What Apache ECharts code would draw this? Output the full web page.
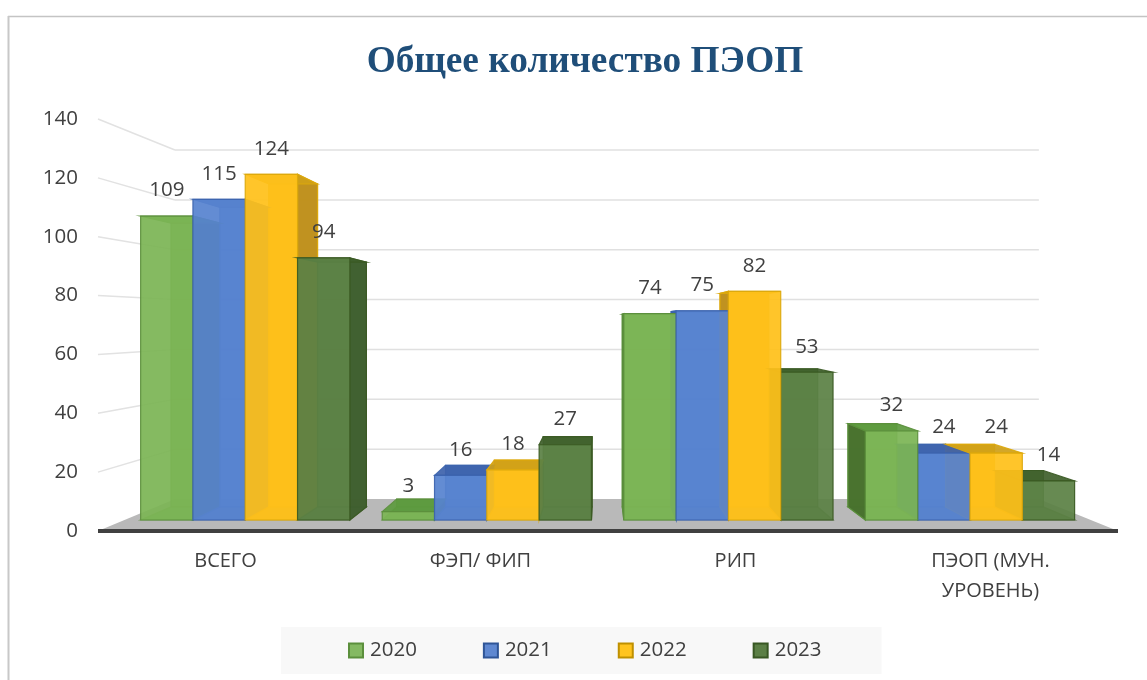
<!DOCTYPE html>
<html>
<head>
<meta charset="utf-8">
<title>Общее количество ПЭОП</title>
<script src="https://cdn.jsdelivr.net/npm/echarts@6/dist/echarts.min.js"></script>
<style>
  html, body { margin: 0; padding: 0; background: #fff; }
  #chart { width: 1147px; height: 680px; }
</style>
</head>
<body>
<div id="chart"></div>
<script>
/* 데이터 */
const categories = ['ВСЕГО', 'ФЭП/ ФИП', 'РИП', 'ПЭОП (МУН.\nУРОВЕНЬ)'];
const years      = ['2020', '2021', '2022', '2023'];
const values2020 = [109, 3, 74, 32];
const values2021 = [115, 16, 75, 24];
const values2022 = [124, 18, 82, 24];
const values2023 = [94, 27, 53, 14];
const yTicks     = [0, 20, 40, 60, 80, 100, 120, 140];

/* 카테고리별 막대 겹침 순서 (뒤 -> 앞) */
const paintOrder = [[0, 1, 2, 3], [0, 1, 2, 3], [0, 1, 3, 2], [1, 3, 0, 2]];

/* 연도별 색상 */
const palette = [
  { front: '#7cb555', back: '#6aa544', top: '#5c9a3e', side: '#47702c', edge: '#5b8f3c', icon: '#84b962', iconEdge: '#5b8f3c' },
  { front: '#5783d0', back: '#4472c4', top: '#3d62ab', side: '#3a62ad', edge: '#3c64ae', icon: '#5f88d1', iconEdge: '#2f5597' },
  { front: '#ffc11a', back: '#f0b000', top: '#cf9f17', side: '#bd8f20', edge: '#dca80c', icon: '#ffc41f', iconEdge: '#bf9000' },
  { front: '#5b8145', back: '#4f7335', top: '#3f5f2b', side: '#3f5f2f', edge: '#3b5a24', icon: '#5b7f45', iconEdge: '#385723' },
];

const FONT = '"Open Sans", "Noto Sans", sans-serif';
const TEXT = '#404040';

/* 원근 파라미터: 소실점(플롯 영역 비율)과 깊이 */
const VP_X = 0.493, VP_Y = 0.4927;
const D_BAR_FRONT = 0.0526, D_BAR_BACK = 0.115, D_WALL = 0.153;
const BAR_W = 0.2165;   // band 대비 막대 폭

const project = (p, d, cs) => {
  const vx = cs.x + cs.width * VP_X, vy = cs.y + cs.height * VP_Y;
  return [vx + (p[0] - vx) * (1 - d), vy + (p[1] - vy) * (1 - d)];
};

/* 바닥 + 벽 눈금선 */
const renderFloor = (params, api) => {
  const cs = params.coordSys;
  const l = cs.x, r = cs.x + cs.width, b = cs.y + cs.height;
  return {
    type: 'group',
    children: [
      { type: 'polygon', z2: 1, shape: { points: [[l, b], [r, b], project([r, b], D_WALL, cs), project([l, b], D_WALL, cs)] },
        style: { fill: '#b9b9b9' } },
      { type: 'line', z2: 2, shape: { x1: l, y1: b, x2: r, y2: b }, style: { stroke: '#404040', lineWidth: 4 } },
    ],
  };
};

const renderWallLine = (params, api) => {
  const cs = params.coordSys;
  const y = api.coord([0, api.value(0)])[1];
  const a = [cs.x, y];
  const c = project(a, D_WALL, cs);
  const d = project([cs.x + cs.width, y], D_WALL, cs);
  return {
    type: 'group',
    children: [
      { type: 'line', z2: 3, shape: { x1: a[0], y1: a[1], x2: c[0], y2: c[1] }, style: { stroke: '#e2e2e2', lineWidth: 1.5 } },
      { type: 'line', z2: 3, shape: { x1: c[0], y1: c[1], x2: d[0], y2: d[1] }, style: { stroke: '#e0e0e0', lineWidth: 1.5 } },
    ],
  };
};

/* 3D 막대: 뒷면/옆면은 모든 앞면 아래에 그린다 */
const makeBarRender = (si) => (params, api) => {
  const cs = params.coordSys;
  const cat = api.value(0), val = api.value(1);
  const top = api.coord([cat, val]);
  const base = api.coord([cat, 0]);
  const band = api.size([1, 0])[0];
  const w = band * BAR_W;
  const x0 = top[0] - w * 2 + si * w;
  const x1 = x0 + w;
  const c = palette[si];
  const order = paintOrder[cat].indexOf(si);
  const zLow = 10 + order * 5, zHigh = 100 + order * 10;

  const fbl = project([x0, base[1]], D_BAR_FRONT, cs), fbr = project([x1, base[1]], D_BAR_FRONT, cs);
  const ftl = project([x0, top[1]], D_BAR_FRONT, cs), ftr = project([x1, top[1]], D_BAR_FRONT, cs);
  const bbl = project([x0, base[1]], D_BAR_BACK, cs), bbr = project([x1, base[1]], D_BAR_BACK, cs);
  const btl = project([x0, top[1]], D_BAR_BACK, cs), btr = project([x1, top[1]], D_BAR_BACK, cs);

  const vx = cs.x + cs.width * VP_X;
  const rightVisible = x1 < vx;
  const face = (points, fill, opacity, z2) => ({
    type: 'polygon', z2, shape: { points },
    style: { fill, opacity, stroke: c.edge, lineWidth: 1.2 },
  });
  const sidePts = rightVisible ? [ftr, fbr, bbr, btr] : [ftl, fbl, bbl, btl];

  return {
    type: 'group',
    children: [
      face([btl, btr, bbr, bbl], c.back, 0.85, zLow),
      face([fbl, fbr, bbr, bbl], c.top, 0.7, zLow + 1),
      face(sidePts, c.side, 0.95, zLow + 2),
      face([ftl, ftr, btr, btl], c.top, 0.92, zHigh),
      face([ftl, ftr, fbr, fbl], c.front, 0.93, zHigh + 1),
      { type: 'text', z2: 500, style: {
          text: String(val), x: (ftl[0] + ftr[0]) / 2, y: ftl[1] - 25.5,
          align: 'center', verticalAlign: 'middle',
          fill: TEXT, fontSize: 20.5, fontFamily: FONT } },
    ],
  };
};

const seriesValues = [values2020, values2021, values2022, values2023];

const option = {
  animation: false,
  backgroundColor: '#fff',
  title: {
    text: 'Общее количество ПЭОП',
    left: 580, top: 39, textAlign: 'center',
    textStyle: { fontFamily: '"Liberation Serif", serif', fontWeight: 'bold', fontSize: 37.3, color: '#1f4e79' },
  },
  legend: {
    data: years,
    left: 281, top: 627,
    padding: [13, 60, 13, 67],
    backgroundColor: '#f8f8f8',
    itemWidth: 14, itemHeight: 14, itemGap: 66,
    icon: 'rect',
    selectedMode: false,
    textStyle: { fontFamily: FONT, fontSize: 20.5, color: TEXT, padding: [0, 0, 0, 2] },
  },
  grid: { left: 98, top: 119, width: 1020, height: 412, containLabel: false },
  xAxis: {
    type: 'category', data: categories,
    axisLine: { show: false }, axisTick: { show: false }, splitLine: { show: false },
    axisLabel: { color: TEXT, fontFamily: FONT, fontSize: 20, margin: 15, lineHeight: 30, interval: 0 },
  },
  yAxis: {
    type: 'value', min: 0, max: 140, interval: 20,
    axisLine: { show: false }, axisTick: { show: false }, splitLine: { show: false },
    axisLabel: { color: TEXT, fontFamily: FONT, fontSize: 20.5, margin: 20 },
  },
  graphic: [
    { type: 'line', silent: true, shape: { x1: 8, y1: 16.5, x2: 1147, y2: 16.5 }, style: { stroke: '#c4c4c4', lineWidth: 1.5 } },
    { type: 'line', silent: true, shape: { x1: 8.5, y1: 16, x2: 8.5, y2: 680 }, style: { stroke: '#c8c8c8', lineWidth: 2 } },
  ],
  series: [
    { type: 'custom', name: 'floor', silent: true, data: [[0, 0]], renderItem: renderFloor, encode: { x: 0, y: 1 } },
    { type: 'custom', name: 'wall', silent: true, data: yTicks.filter((t) => t > 0).map((t) => [t]), renderItem: renderWallLine, encode: { y: 0 } },
  ].concat(years.map((y, si) => ({
    type: 'custom',
    name: y,
    silent: true,
    renderItem: makeBarRender(si),
    encode: { x: 0, y: 1 },
    itemStyle: { color: palette[si].icon, borderColor: palette[si].iconEdge, borderWidth: 1.5 },
    data: seriesValues[si].map((v, i) => [i, v]),
  }))),
};

const chart = echarts.init(document.getElementById('chart'), null, { renderer: 'canvas' });
chart.setOption(option);
</script>
</body>
</html>
